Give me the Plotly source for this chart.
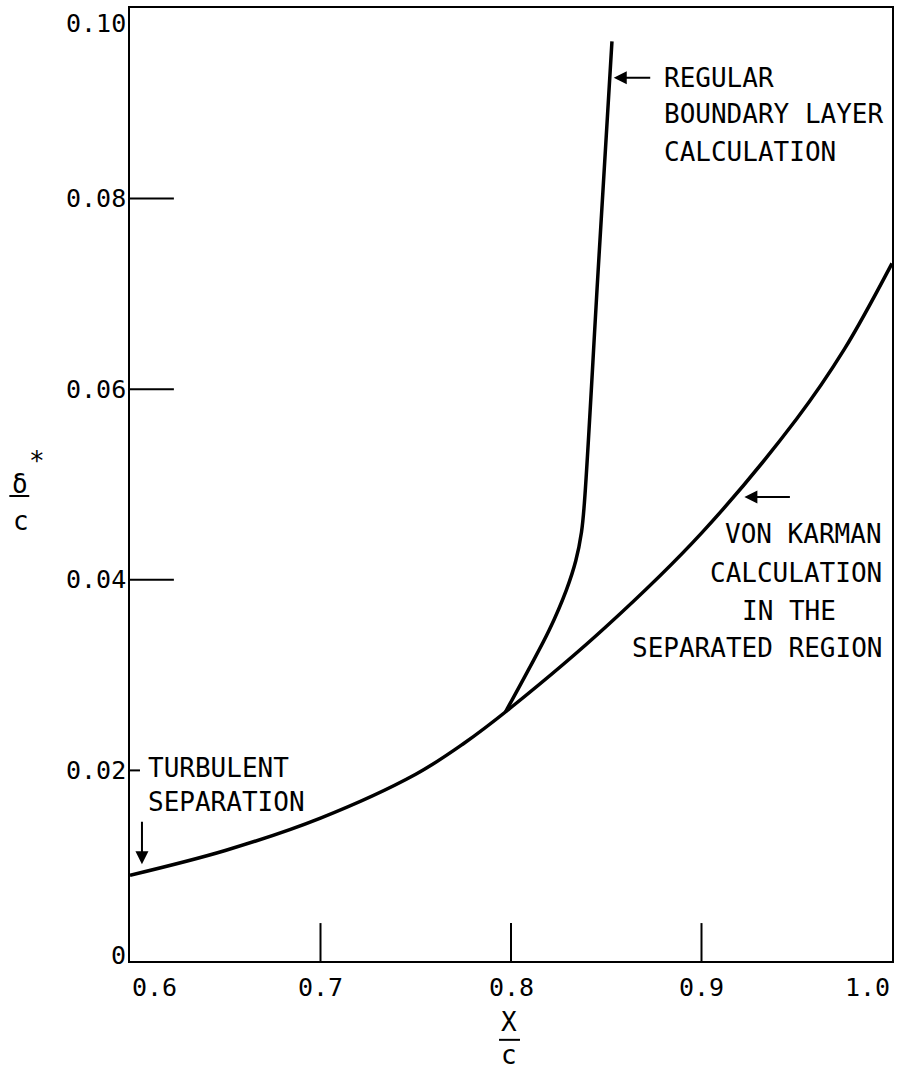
import plotly.graph_objects as go

# Separated-region displacement thickness, delta*/c versus x/c
x_karman = [0.600, 0.650, 0.700, 0.750, 0.775, 0.800, 0.850, 0.900, 0.950, 0.975, 1.000]
y_karman = [0.0090, 0.0116, 0.0150, 0.0196, 0.0228, 0.0266, 0.0351, 0.0449, 0.0569, 0.0642, 0.0732]

x_regular = [0.797, 0.809, 0.820, 0.829, 0.834, 0.837, 0.8385, 0.8457, 0.853]
y_regular = [0.0261, 0.0305, 0.0347, 0.0389, 0.0420, 0.0450, 0.0480, 0.0723, 0.0965]

x_ticks = [0.6, 0.7, 0.8, 0.9, 1.0]
x_tick_labels = ["0.6", "0.7", "0.8", "0.9", "1.0"]
y_ticks = [0.0, 0.02, 0.04, 0.06, 0.08, 0.10]
y_tick_labels = ["0", "0.02", "0.04", "0.06", "0.08", "0.10"]

W, H = 900, 1069
ML, MR, MT, MB = 130, 6, 6, 108
PW, PH = W - ML - MR, H - MT - MB
FONT = "DejaVu Sans Mono"


def px(xp):
    return (xp - ML) / PW


def py(yp):
    return (H - MB - yp) / PH


fig = go.Figure()
for xs, ys in [(x_karman, y_karman), (x_regular, y_regular)]:
    fig.add_trace(go.Scatter(x=xs, y=ys, mode="lines",
                             line=dict(color="black", width=3.5, shape="spline", smoothing=1.0),
                             hoverinfo="skip", showlegend=False))

shapes = []
# x ticks pointing into the plot
for v in x_ticks[1:-1]:
    shapes.append(dict(type="line", xref="x", yref="paper", x0=v, x1=v,
                       y0=0, y1=38 / PH, line=dict(color="black", width=2)))
# y ticks pointing into the plot (the 0.02 one is short)
for v in y_ticks[1:-1]:
    length = 10 if abs(v - 0.02) < 1e-9 else 44
    shapes.append(dict(type="line", xref="paper", yref="y", x0=0, x1=length / PW,
                       y0=v, y1=v, line=dict(color="black", width=2)))

annotations = []
for i, (v, t) in enumerate(zip(x_ticks, x_tick_labels)):
    anchor = "left" if i == 0 else ("right" if i == len(x_ticks) - 1 else "center")
    annotations.append(dict(x=v, xref="x", y=0, yref="paper", text=t, showarrow=False,
                            xanchor=anchor, yanchor="top", yshift=-10,
                            font=dict(family=FONT, size=25, color="black")))
for i, (v, t) in enumerate(zip(y_ticks, y_tick_labels)):
    shift = 6 if i == 0 else (-15 if i == len(y_ticks) - 1 else 0)
    annotations.append(dict(x=0, xref="paper", y=v, yref="y", text=t, showarrow=False,
                            xanchor="right", yanchor="middle", xshift=-2, yshift=shift,
                            font=dict(family=FONT, size=25, color="black")))

txt = dict(family=FONT, size=26, color="black")


def label(xp, yp, text, anchor="left"):
    annotations.append(dict(x=px(xp), y=py(yp), xref="paper", yref="paper", text=text,
                            showarrow=False, xanchor=anchor, yanchor="middle", font=txt))


def arrow(xp, yp, ax, ay):
    annotations.append(dict(x=px(xp), y=py(yp), xref="paper", yref="paper", text="",
                            showarrow=True, arrowhead=2, arrowsize=1.3, arrowwidth=2,
                            arrowcolor="black", ax=ax, ay=ay))


# curve labels
label(663, 76, "REGULAR")
label(663, 112, "BOUNDARY LAYER")
label(663, 150, "CALCULATION")
arrow(615, 76, 38, 0)

label(886, 533, "VON KARMAN", "right")
label(886, 572, "CALCULATION", "right")
label(791, 610, "IN THE", "center")
label(886, 647, "SEPARATED REGION", "right")
arrow(746, 496, 47, 0)

label(146, 768, "TURBULENT")
label(146, 802, "SEPARATION")
arrow(142, 864, 0, -44)

# axis titles written as stacked fractions
label(20, 483, "δ", "center")
label(37, 460, "*", "center")
label(21, 520, "c", "center")
shapes.append(dict(type="line", xref="paper", yref="paper", x0=px(9), x1=px(29),
                   y0=py(495), y1=py(495), line=dict(color="black", width=2)))
label(510, 1022, "X", "center")
label(510, 1055, "c", "center")
shapes.append(dict(type="line", xref="paper", yref="paper", x0=px(500), x1=px(521),
                   y0=py(1040), y1=py(1040), line=dict(color="black", width=2)))

fig.update_layout(
    width=W, height=H,
    margin=dict(l=ML, r=MR, t=MT, b=MB, pad=0),
    paper_bgcolor="white", plot_bgcolor="white",
    shapes=shapes, annotations=annotations,
    xaxis=dict(range=[0.6, 1.0], showgrid=False, zeroline=False, showticklabels=False,
               ticks="", showline=True, mirror=True, linecolor="black", linewidth=2),
    yaxis=dict(range=[0.0, 0.10], showgrid=False, zeroline=False, showticklabels=False,
               ticks="", showline=True, mirror=True, linecolor="black", linewidth=2),
)

fig.write_html("out.html")
